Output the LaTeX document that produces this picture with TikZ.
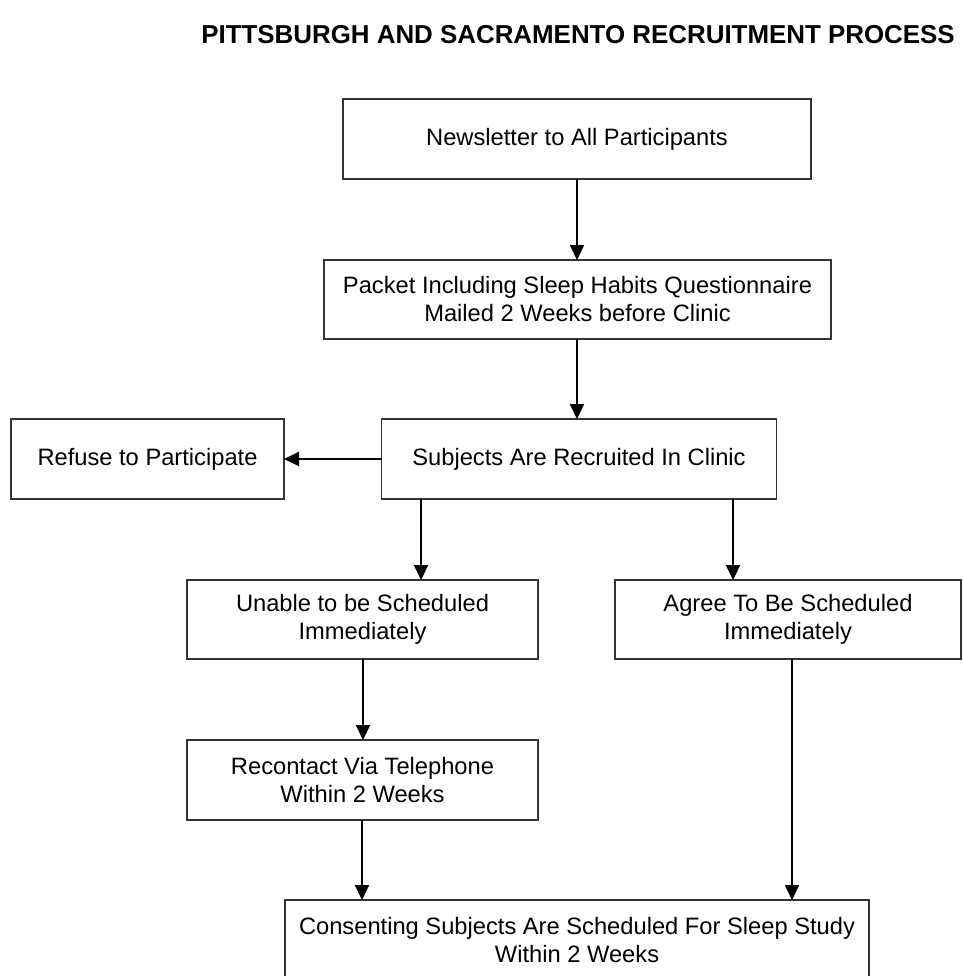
\documentclass[tikz,border=0pt]{standalone}
\usepackage{fontspec}
\setmainfont{Liberation Sans}
\usetikzlibrary{arrows.meta}

\tikzset{
  flowbox/.style={draw=black!80, line width=1.1pt, inner sep=0pt, outer sep=0pt,
    align=center, font=\fontsize{23.7}{28}\selectfont},
  flowarrow/.style={draw=black, line width=2.2pt,
    -{Triangle[length=15pt,width=14pt]}},
  thinarrow/.style={flowarrow, line width=1.6pt},
  heading/.style={font=\fontsize{25.9}{30}\selectfont\bfseries, inner sep=0pt, anchor=base east}
}

\begin{document}
\begin{tikzpicture}[x=1pt, y=-1pt]
  \useasboundingbox (0,0) rectangle (962,976);
  \clip (0,0) rectangle (962,976);

  % heading
  \node[heading] (title) at (955,44) {PITTSBURGH AND SACRAMENTO RECRUITMENT PROCESS};

  % process boxes
  \node[flowbox, minimum width=468pt, minimum height=80pt] (news) at (577,139)
    {Newsletter to All Participants};
  \node[flowbox, minimum width=507pt, minimum height=79pt] (packet) at (577.5,299.5)
    {Packet Including Sleep Habits Questionnaire\\Mailed 2 Weeks before Clinic};
  \node[flowbox, minimum width=395pt, minimum height=80pt] (subj) at (579,459)
    {Subjects Are Recruited In Clinic};
  \node[flowbox, minimum width=273pt, minimum height=80pt] (refuse) at (147.5,459)
    {Refuse to Participate};
  \node[flowbox, minimum width=351pt, minimum height=79pt] (unable) at (362.5,619.5)
    {Unable to be Scheduled\\Immediately};
  \node[flowbox, minimum width=346pt, minimum height=79pt] (agree) at (788,619.5)
    {Agree To Be Scheduled\\Immediately};
  \node[flowbox, minimum width=351pt, minimum height=80pt] (recontact) at (362.5,780)
    {Recontact Via Telephone\\Within 2 Weeks};
  % the lowest box runs past the lower edge
  \node[flowbox, minimum width=584pt, minimum height=120pt] (consent) at (577,960) {};
  \node[font=\fontsize{23.7}{28}\selectfont, align=center, inner sep=0pt] (consenttext) at (577,940)
    {Consenting Subjects Are Scheduled For Sleep Study\\Within 2 Weeks};

  % connectors
  \draw[flowarrow] (news.south) -- (packet.north -| news.south);
  \draw[flowarrow] (packet.south -| news.south) -- (subj.north -| news.south);
  \draw[flowarrow] (subj.west) -- (refuse.east);
  \draw[flowarrow] (subj.south -| 421,0) -- (unable.north -| 421,0);
  \draw[flowarrow] (subj.south -| 733,0) -- (agree.north -| 733,0);
  \draw[flowarrow] (unable.south -| 363,0) -- (recontact.north -| 363,0);
  \draw[flowarrow] (recontact.south -| 362,0) -- (consent.north -| 362,0);
  \draw[thinarrow] (agree.south -| 792,0) -- (consent.north -| 792,0);
\end{tikzpicture}
\end{document}
